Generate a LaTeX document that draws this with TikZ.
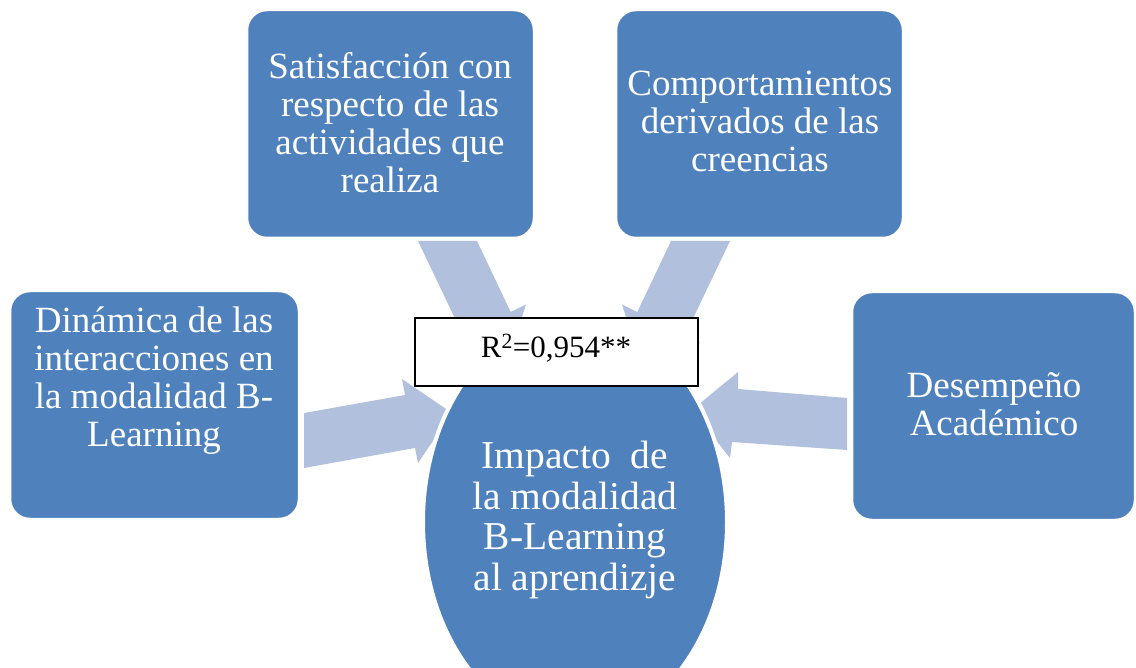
\documentclass[tikz,border=0pt]{standalone}
\usepackage{fontspec}
\setmainfont{Liberation Serif}
\usetikzlibrary{shapes.geometric}
\definecolor{boxblue}{RGB}{79,129,189}
\definecolor{arrowblue}{RGB}{177,193,221}
\begin{document}
\begin{tikzpicture}[x=1pt,y=-1pt,
  box/.style={draw=white, line width=2.5pt, fill=boxblue, rounded corners=20pt, inner sep=0pt, outer sep=0pt},
  lbl/.style={text=white, align=center, anchor=north, inner sep=0pt, font=\fontsize{37}{38}\selectfont},
  blockarrow/.style={fill=arrowblue, draw=none}]
\fill[white] (0,0) rectangle (1136,668);
\useasboundingbox (0,0) rectangle (1136,668);
% block arrows
\fill[blockarrow] (304,413) -- (405,395) -- (402,379) -- (452,413) -- (418,463) -- (415,448) -- (304,468) -- cycle;
\fill[blockarrow] (847,398) -- (738,389) -- (738,372) -- (692,410) -- (730,458) -- (732,442) -- (847,450) -- cycle;
\fill[blockarrow] (418,241) -- (477,241) -- (510.7,312) -- (526,304.5) -- (506.7,364) -- (447.7,342.8) -- (463,335.3) -- cycle;
\fill[blockarrow] (730,241) -- (671,241) -- (637.3,312) -- (622,304.5) -- (641.3,364) -- (700.3,342.8) -- (685,335.3) -- cycle;
% boxes
\node[box, minimum width=289pt, minimum height=228pt] (b1) at (154.5,405) {};
\node[box, minimum width=287pt, minimum height=228pt] (b2) at (390.5,124) {};
\node[box, minimum width=287pt, minimum height=228pt] (b3) at (759.5,124) {};
\node[box, minimum width=283pt, minimum height=228pt] (b4) at (993.5,406) {};
\node[ellipse, minimum width=304pt, minimum height=410pt, fill=boxblue, draw=white, line width=4pt, inner sep=0pt, outer sep=0pt] (c) at (575,522) {};
% texts
\node[lbl] (t1) at (154,307) {Dinámica de las\\interacciones en\\la modalidad B-\\Learning};
\node[lbl] (t2) at (390,52) {Satisfacción con\\respecto de las\\actividades que\\realiza};
\node[lbl] (t3) at (760,71) {Comportamientos\\derivados de las\\creencias};
\node[lbl] (t4) at (994,372) {Desempeño\\Académico};
\node[lbl, font=\fontsize{39.5}{40.5}\selectfont] (t5) at (575,441) {Impacto~ de\\la modalidad\\B-Learning\\al aprendizje};
% R2 box
\node[draw=black, line width=2pt, fill=white, minimum width=283pt, minimum height=68pt, inner sep=0pt] (r) at (556.5,352) {};
\node[anchor=base, inner sep=0pt, font=\fontsize{31}{33}\selectfont] (rt) at (556,358) {R\textsuperscript{2}=0,954**};
\end{tikzpicture}
\end{document}
